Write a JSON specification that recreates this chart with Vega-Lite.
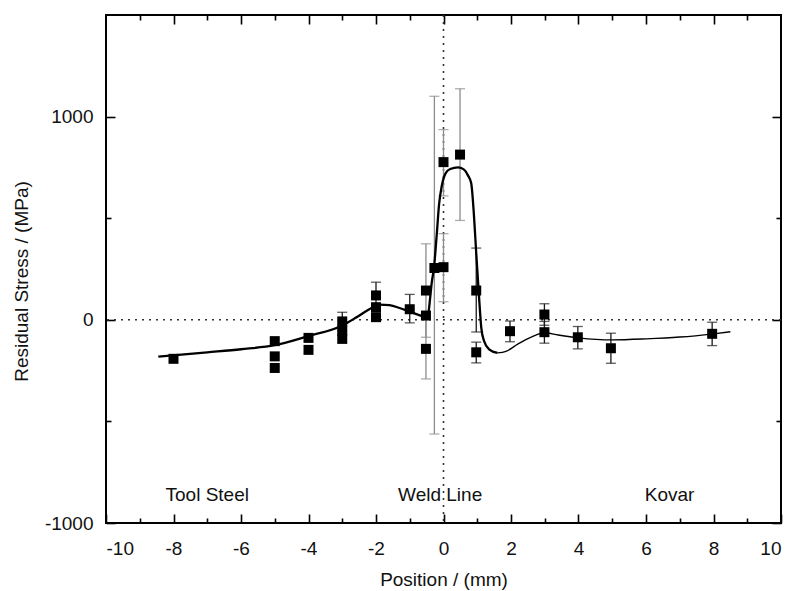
{
  "$schema": "https://vega.github.io/schema/vega-lite/v6.json",
  "width": 675,
  "height": 508,
  "autosize": "none",
  "padding": {"left": 106, "top": 15, "right": 13, "bottom": 68},
  "background": "white",
  "config": {
    "view": {"stroke": "black", "strokeWidth": 2},
    "font": "Liberation Sans",
    "axis": {
      "grid": false,
      "domain": false,
      "labelFont": "Liberation Sans",
      "labelFontSize": 19,
      "labelColor": "#111",
      "titleFont": "Liberation Sans",
      "titleFontSize": 19,
      "titleFontWeight": "normal",
      "titleColor": "#111",
      "tickColor": "black",
      "tickWidth": 1.6
    }
  },
  "datasets": {
    "pts": [
      {"x": -8, "y": -192, "lo": null, "hi": null},
      {"x": -5, "y": -105, "lo": null, "hi": null},
      {"x": -5, "y": -180, "lo": null, "hi": null},
      {"x": -5, "y": -237, "lo": null, "hi": null},
      {"x": -4, "y": -89, "lo": null, "hi": null},
      {"x": -4, "y": -148, "lo": null, "hi": null},
      {"x": -3, "y": -8, "lo": -53, "hi": 37},
      {"x": -3, "y": -53, "lo": null, "hi": null},
      {"x": -3, "y": -94, "lo": null, "hi": null},
      {"x": -2, "y": 120, "lo": 55, "hi": 185},
      {"x": -2, "y": 62, "lo": null, "hi": null},
      {"x": -2, "y": 13, "lo": null, "hi": null},
      {"x": -1, "y": 52, "lo": -15, "hi": 125},
      {"x": -0.52, "y": 144, "lo": -86, "hi": 374},
      {"x": -0.52, "y": 21, "lo": null, "hi": null},
      {"x": -0.52, "y": -143, "lo": -291, "hi": 5},
      {"x": -0.27, "y": 255, "lo": -562, "hi": 1100},
      {"x": 0, "y": 259, "lo": 89, "hi": 424},
      {"x": 0, "y": 776, "lo": 610, "hi": 936},
      {"x": 0.49, "y": 813, "lo": 489, "hi": 1137},
      {"x": 0.97, "y": 144, "lo": -60, "hi": 353},
      {"x": 0.97, "y": -160, "lo": -212, "hi": -110},
      {"x": 1.97, "y": -56, "lo": -108, "hi": -6},
      {"x": 2.99, "y": 26, "lo": -27, "hi": 79},
      {"x": 2.99, "y": -61, "lo": -115, "hi": -8},
      {"x": 3.98, "y": -86, "lo": -143, "hi": -33},
      {"x": 4.96, "y": -140, "lo": -214, "hi": -66},
      {"x": 7.96, "y": -69, "lo": -127, "hi": -12}
    ],
    "curve": [
      {"x": -8.45, "y": -181},
      {"x": -7, "y": -160},
      {"x": -6, "y": -145},
      {"x": -5, "y": -125},
      {"x": -4, "y": -80},
      {"x": -3, "y": -28},
      {"x": -2.6, "y": 10},
      {"x": -2.2, "y": 52},
      {"x": -1.9, "y": 75},
      {"x": -1.6, "y": 72},
      {"x": -1.3, "y": 58},
      {"x": -1.0, "y": 40},
      {"x": -0.7, "y": 22},
      {"x": -0.5, "y": 12},
      {"x": -0.45, "y": 30},
      {"x": -0.4, "y": 100},
      {"x": -0.35, "y": 180},
      {"x": -0.28, "y": 260},
      {"x": -0.2, "y": 420},
      {"x": -0.13, "y": 570},
      {"x": -0.05, "y": 660},
      {"x": 0.07, "y": 723},
      {"x": 0.2, "y": 742},
      {"x": 0.43, "y": 750},
      {"x": 0.6, "y": 740},
      {"x": 0.72, "y": 712},
      {"x": 0.82, "y": 673},
      {"x": 0.9, "y": 520},
      {"x": 0.97, "y": 327},
      {"x": 1.05, "y": 120},
      {"x": 1.12, "y": -40},
      {"x": 1.2, "y": -104},
      {"x": 1.35, "y": -145},
      {"x": 1.6, "y": -163},
      {"x": 1.85, "y": -155},
      {"x": 2.2, "y": -120},
      {"x": 2.6, "y": -85},
      {"x": 3.0, "y": -64},
      {"x": 3.4, "y": -75},
      {"x": 4.0, "y": -89},
      {"x": 5.0, "y": -99},
      {"x": 6.0, "y": -94},
      {"x": 7.0, "y": -85},
      {"x": 8.0, "y": -69},
      {"x": 8.5, "y": -59}
    ],
    "labels": [
      {"x": -7.0, "y": -860, "label": "Tool Steel"},
      {"x": -0.1, "y": -860, "label": "Weld Line"},
      {"x": 6.7, "y": -860, "label": "Kovar"}
    ],
    "ref": [{"v": 0}]
  },
  "resolve": {"axis": {"x": "independent", "y": "independent"}},
  "layer": [
    {
      "data": {"name": "ref"},
      "mark": {"type": "rule", "stroke": "#333", "strokeWidth": 1.6, "strokeDash": [2, 5]},
      "encoding": {
        "y": {"field": "v", "type": "quantitative", "scale": {"domain": [-1000, 1500]}, "axis": null}
      }
    },
    {
      "data": {"name": "ref"},
      "mark": {"type": "rule", "stroke": "#333", "strokeWidth": 1.6, "strokeDash": [2, 5]},
      "encoding": {
        "x": {"field": "v", "type": "quantitative", "scale": {"domain": [-10, 10]}, "axis": null}
      }
    },
    {
      "data": {"name": "pts"},
      "transform": [{"filter": "isValid(datum.lo) && datum.x > -0.6 && datum.x < 0.9"}],
      "mark": {"type": "errorbar", "color": "#8c8c8c", "ticks": {"size": 10}, "thickness": 1.3},
      "encoding": {
        "x": {"field": "x", "type": "quantitative", "scale": {"domain": [-10, 10]},
              "axis": {"orient": "top", "values": [-8, -6, -4, -2, 0, 2, 4, 6, 8], "labels": false, "tickSize": -9, "title": null}},
        "y": {"field": "lo", "type": "quantitative", "scale": {"domain": [-1000, 1500]},
              "axis": {"orient": "right", "values": [-1000, 0, 1000], "labels": false, "tickSize": -9, "title": null}},
        "y2": {"field": "hi"}
      }
    },
    {
      "data": {"name": "pts"},
      "transform": [{"filter": "isValid(datum.lo) && (datum.x <= -0.6 || datum.x >= 0.9)"}],
      "mark": {"type": "errorbar", "color": "#1a1a1a", "ticks": {"size": 10}, "thickness": 1.3},
      "encoding": {
        "x": {"field": "x", "type": "quantitative", "scale": {"domain": [-10, 10]},
              "axis": {"orient": "bottom", "values": [-9, -7, -5, -3, -1, 1, 3, 5, 7, 9], "labels": false, "tickSize": -5, "title": null}},
        "y": {"field": "lo", "type": "quantitative", "scale": {"domain": [-1000, 1500]},
              "axis": {"orient": "left", "values": [-500, 500], "labels": false, "tickSize": -5, "title": null}},
        "y2": {"field": "hi"}
      }
    },
    {
      "data": {"name": "curve"},
      "transform": [{"filter": "datum.x <= 1.6"}],
      "mark": {"type": "line", "color": "black", "strokeWidth": 2.3, "interpolate": "monotone"},
      "encoding": {
        "x": {"field": "x", "type": "quantitative", "scale": {"domain": [-10, 10]},
              "axis": {"orient": "top", "values": [-9, -7, -5, -3, -1, 1, 3, 5, 7, 9], "labels": false, "tickSize": -5, "title": null}},
        "y": {"field": "y", "type": "quantitative", "scale": {"domain": [-1000, 1500]},
              "axis": {"orient": "right", "values": [-500, 500], "labels": false, "tickSize": -5, "title": null}}
      }
    },
    {
      "data": {"name": "curve"},
      "transform": [{"filter": "datum.x >= 1.6"}],
      "mark": {"type": "line", "color": "black", "strokeWidth": 1.4, "interpolate": "monotone"},
      "encoding": {
        "x": {"field": "x", "type": "quantitative", "scale": {"domain": [-10, 10]}, "axis": null},
        "y": {"field": "y", "type": "quantitative", "scale": {"domain": [-1000, 1500]}, "axis": null}
      }
    },
    {
      "data": {"name": "pts"},
      "mark": {"type": "point", "shape": "square", "filled": true, "color": "black", "size": 100, "opacity": 1},
      "encoding": {
        "x": {"field": "x", "type": "quantitative", "scale": {"domain": [-10, 10]},
              "axis": {"orient": "bottom", "values": [-10, -8, -6, -4, -2, 0, 2, 4, 6, 8, 10], "tickSize": -9, "labelPadding": 25,
                       "labelExpr": "'' + datum.value",
                       "title": "Position / (mm)", "titleY": 56, "titleBaseline": "middle"}},
        "y": {"field": "y", "type": "quantitative", "scale": {"domain": [-1000, 1500]},
              "axis": {"orient": "left", "values": [-1000, 0, 1000], "tickSize": -9, "labelPadding": 22,
                       "labelExpr": "'' + datum.value",
                       "title": "Residual Stress / (MPa)", "titleX": -85, "titleY": 266, "titleAngle": -90, "titleAlign": "center", "titleBaseline": "middle"}}
      }
    },
    {
      "data": {"name": "labels"},
      "mark": {"type": "text", "fontSize": 19, "font": "Liberation Sans", "color": "#111", "align": "center", "baseline": "middle"},
      "encoding": {
        "x": {"field": "x", "type": "quantitative", "scale": {"domain": [-10, 10]}, "axis": null},
        "y": {"field": "y", "type": "quantitative", "scale": {"domain": [-1000, 1500]}, "axis": null},
        "text": {"field": "label"}
      }
    }
  ]
}
